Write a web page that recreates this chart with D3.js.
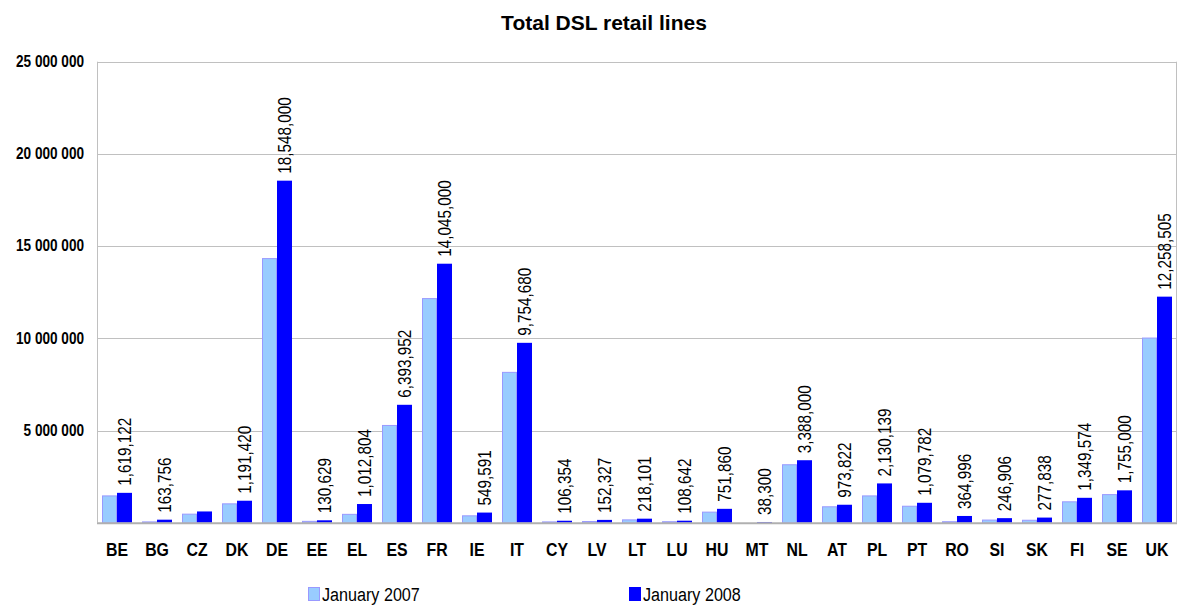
<!DOCTYPE html>
<html>
<head>
<meta charset="utf-8">
<script src="https://cdn.jsdelivr.net/npm/d3@7"></script>
<style>
  html, body { margin: 0; padding: 0; background: #fff; }
  svg { display: block; font-family: "Liberation Sans", Arial, sans-serif; }
</style>
</head>
<body>
<svg id="chart" width="1180" height="606"></svg>
<script>
const title = "Total DSL retail lines";
const categories = ["BE","BG","CZ","DK","DE","EE","EL","ES","FR","IE","IT","CY","LV","LT","LU","HU","MT","NL","AT","PL","PT","RO","SI","SK","FI","SE","UK"];
const seriesNames = ["January 2007", "January 2008"];
const jan2007 = [1480000, 70000, 490000, 1050000, 14350000, 100000, 480000, 5300000, 12180000, 400000, 8180000, 70000, 90000, 180000, 80000, 600000, 20000, 3170000, 890000, 1480000, 920000, 80000, 170000, 160000, 1160000, 1550000, 10040000];
const jan2008 = [1619122, 163756, 610000, 1191420, 18548000, 130629, 1012804, 6393952, 14045000, 549591, 9754680, 106354, 152327, 218101, 108642, 751860, 38300, 3388000, 973822, 2130139, 1079782, 364996, 246906, 277838, 1349574, 1755000, 12258505];
const labels2008 = ["1,619,122","163,756",null,"1,191,420","18,548,000","130,629","1,012,804","6,393,952","14,045,000","549,591","9,754,680","106,354","152,327","218,101","108,642","751,860","38,300","3,388,000","973,822","2,130,139","1,079,782","364,996","246,906","277,838","1,349,574","1,755,000","12,258,505"];
const yTicks = [5000000, 10000000, 15000000, 20000000, 25000000];
const yTickLabels = ["5 000 000","10 000 000","15 000 000","20 000 000","25 000 000"];

const svg = d3.select("#chart");
const L = 97, R = 1177, T = 61.7, B = 522.7;

const x = d3.scaleBand().domain(categories).range([L, R]).paddingInner(0.25).paddingOuter(0.125);
const xs = d3.scaleBand().domain(seriesNames).range([0, x.bandwidth()]);
const y = d3.scaleLinear().domain([0, 25000000]).range([B, T]);

// gridlines
svg.append("g").selectAll("line").data(yTicks).join("line")
  .attr("x1", L).attr("x2", R)
  .attr("y1", d => Math.round(y(d)) + 0.5).attr("y2", d => Math.round(y(d)) + 0.5)
  .attr("stroke", "#c0c0c0").attr("stroke-width", 1);

// plot border (left and right)
svg.append("line").attr("x1", L + 0.5).attr("x2", L + 0.5).attr("y1", y(25000000)).attr("y2", B)
  .attr("stroke", "#c0c0c0");
svg.append("line").attr("x1", R - 0.5).attr("x2", R - 0.5).attr("y1", y(25000000)).attr("y2", B)
  .attr("stroke", "#c0c0c0");

// y tick labels
svg.append("g").selectAll("text").data(yTicks).join("text")
  .attr("transform", d => `translate(84,${y(d)}) scale(0.85,1)`)
  .attr("text-anchor", "end").attr("dominant-baseline", "central")
  .attr("font-size", "16px").attr("font-weight", "bold").attr("fill", "#000")
  .text((d, i) => yTickLabels[i]);

// bars
const rows = categories.map((c, i) => ({ c, v07: jan2007[i], v08: jan2008[i], lab: labels2008[i] }));
const g = svg.append("g");
g.selectAll("rect.s07").data(rows).join("rect").attr("class", "s07")
  .attr("x", d => x(d.c) + xs(seriesNames[0]) + 0.5)
  .attr("y", d => y(d.v07) + 0.5)
  .attr("width", xs.bandwidth() - 1)
  .attr("height", d => Math.max(0, B - y(d.v07) - 0.5))
  .attr("fill", "#99ccff").attr("stroke", "#9999ff").attr("stroke-width", 1);
g.selectAll("rect.s08").data(rows).join("rect").attr("class", "s08")
  .attr("x", d => x(d.c) + xs(seriesNames[1]))
  .attr("y", d => y(d.v08))
  .attr("width", xs.bandwidth())
  .attr("height", d => B - y(d.v08))
  .attr("fill", "#0000ff");

// baseline axis
svg.append("line").attr("x1", L).attr("x2", R).attr("y1", B + 0.5).attr("y2", B + 0.5)
  .attr("stroke", "#b0b0b0").attr("stroke-width", 2);

// data labels (rotated)
g.selectAll("text.lab").data(rows.filter(d => d.lab)).join("text").attr("class", "lab")
  .attr("transform", d => {
    const cx = x(d.c) + xs(seriesNames[1]) + xs.bandwidth() / 2;
    return `translate(${cx + 6.5},${y(d.v08) - 7}) rotate(-90) scale(0.85,1)`;
  })
  .attr("text-anchor", "start")
  .attr("font-size", "18px").attr("fill", "#000")
  .text(d => d.lab);

// x labels
svg.append("g").selectAll("text").data(categories).join("text")
  .attr("transform", d => `translate(${x(d) + x.bandwidth() / 2},556) scale(0.88,1)`)
  .attr("text-anchor", "middle")
  .attr("font-size", "18px").attr("font-weight", "bold").attr("fill", "#000")
  .text(d => d);

// title
svg.append("text").attr("x", 604).attr("y", 30).attr("text-anchor", "middle")
  .attr("font-size", "21px").attr("font-weight", "bold").text(title);

// legend
const legendX = [308, 629];
const legendFill = ["#99ccff", "#0000ff"];
const legendStroke = ["#9999ff", "#0000ff"];
const lg = svg.append("g").selectAll("g").data(seriesNames).join("g");
lg.append("rect")
  .attr("x", (d, i) => legendX[i] + 0.5).attr("y", 587.5)
  .attr("width", 11).attr("height", 13)
  .attr("fill", (d, i) => legendFill[i]).attr("stroke", (d, i) => legendStroke[i]);
lg.append("text")
  .attr("transform", (d, i) => `translate(${legendX[i] + 14},601) scale(0.85,1)`)
  .attr("font-size", "19px").attr("fill", "#000")
  .text(d => d);
</script>
</body>
</html>
